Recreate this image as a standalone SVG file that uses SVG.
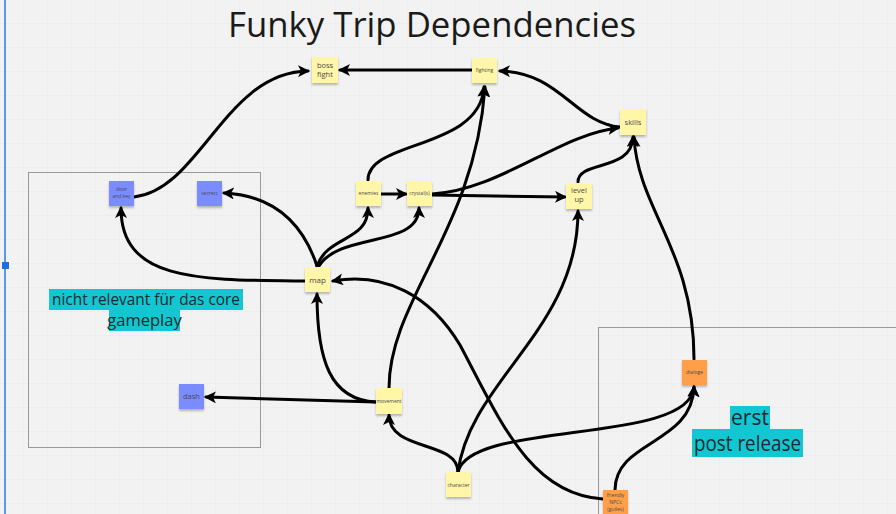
<svg xmlns="http://www.w3.org/2000/svg" width="896" height="514" viewBox="0 0 896 514">
<defs>
<pattern id="grid" width="24" height="24" patternUnits="userSpaceOnUse">
<path d="M24 0V24M0 24H24" fill="none" stroke="#e8e8e8" stroke-width="1"/>
</pattern>
<marker id="ah" viewBox="0 0 12 12" refX="10" refY="6" markerWidth="12" markerHeight="12" markerUnits="userSpaceOnUse" orient="auto">
<path d="M0,0 L12,6 L0,12 L3,6 Z" fill="#000"/>
</marker>
<filter id="sh" x="-20%" y="-20%" width="140%" height="160%">
<feDropShadow dx="0" dy="2" stdDeviation="1.2" flood-color="#000" flood-opacity="0.25"/>
</filter>
</defs>
<style>
.y{fill:#fff6a8;filter:url(#sh)}
.b{fill:#7a8cff;filter:url(#sh)}
.o{fill:#ff9f4a;filter:url(#sh)}
.t{font-family:"Open Sans","Liberation Sans",sans-serif;fill:#4a4a4a;text-anchor:middle}
.s{font-size:5px}
.m{font-size:7.5px}
.c{fill:none;stroke:#000;stroke-width:3;stroke-linecap:round;marker-end:url(#ah)}
.lab{font-family:"Open Sans","Liberation Sans",sans-serif;fill:#1a2a2e;text-anchor:middle}
</style>
<rect width="896" height="514" fill="#f2f2f2"/>
<rect width="896" height="514" fill="url(#grid)"/>
<line x1="5" y1="0" x2="5" y2="514" stroke="#2a79e4" stroke-width="1.5"/>
<rect x="2" y="262" width="7" height="7" fill="#1f6fe0"/>
<text x="228" y="37" font-family="Open Sans, Liberation Sans, sans-serif" font-size="34" fill="#1a1a1a" textLength="408" lengthAdjust="spacingAndGlyphs">Funky Trip Dependencies</text>
<g id="frames" fill="none" stroke="#999" stroke-width="1">
<rect x="28.5" y="172.5" width="232" height="275"/>
<rect x="598.5" y="327.5" width="300" height="200"/>
</g>
<g id="labels">
<rect x="49" y="289" width="194" height="21" fill="#12c7d2"/>
<rect x="109" y="310" width="71" height="21" fill="#12c7d2"/>
<text class="lab" x="146" y="305" font-size="16.5" textLength="188" lengthAdjust="spacingAndGlyphs">nicht relevant für das core</text>
<text class="lab" x="144.5" y="326" font-size="16.5">gameplay</text>
<rect x="730" y="406" width="40" height="23" fill="#12c7d2"/>
<rect x="692" y="429" width="111" height="28" fill="#12c7d2"/>
<text class="lab" x="750" y="425" font-size="21">erst</text>
<text class="lab" x="747.5" y="451" font-size="21" textLength="107" lengthAdjust="spacingAndGlyphs">post release</text>
</g>
<g id="connectors">
<path class="c" d="M134,197 C200,190 225,72 308,71"/>
<path class="c" d="M472,70 L340,70"/>
<path class="c" d="M620,127 C575,123 560,72 500,71"/>
<path class="c" d="M368,180 C368,140 480,150 484,87"/>
<path class="c" d="M389,388 C389,300 475,230 485,87"/>
<path class="c" d="M381,194 L406,194"/>
<path class="c" d="M432,195 L565,197"/>
<path class="c" d="M432,194 C500,190 560,134 618,128"/>
<path class="c" d="M578,182 C578,160 632,172 633,137"/>
<path class="c" d="M694,359 C694,250 638,210 634,137"/>
<path class="c" d="M305,281 C200,280 121,282 121,208"/>
<path class="c" d="M317,266 C300,215 265,195 224,193"/>
<path class="c" d="M317,266 C328,235 368,242 368,208"/>
<path class="c" d="M319,266 C340,232 419,248 419,208"/>
<path class="c" d="M376,402 C330,400 317,360 317,294"/>
<path class="c" d="M376,402 L206,397"/>
<path class="c" d="M458,472 C458,440 389,452 389,415"/>
<path class="c" d="M458,472 C470,380 578,330 578,211"/>
<path class="c" d="M458,472 C470,420 690,445 694,387"/>
<path class="c" d="M603,499 C530,495 500,420 460,345 C430,295 385,272 333,281"/>
<path class="c" d="M615,490 C615,440 692,445 694,387"/>
</g>
<g id="boss-fight"><rect class="y" x="312" y="57" width="26" height="26"/><text class="t m" x="325" y="68">boss</text><text class="t m" x="325" y="77">fight</text></g>
<g id="fighting"><rect class="y" x="472" y="58" width="25" height="25"/><text class="t s" x="484.5" y="72">fighting</text></g>
<g id="skills"><rect class="y" x="620" y="109" width="26" height="26"/><text class="t m" x="633" y="124.5">skills</text></g>
<g id="enemies"><rect class="y" x="356" y="181" width="25" height="25"/><text class="t s" x="368.5" y="195">enemies</text></g>
<g id="crystals"><rect class="y" x="407" y="181" width="25" height="25"/><text class="t s" x="419.5" y="195" font-size="4">crystal(s)</text></g>
<g id="level-up"><rect class="y" x="566" y="183" width="26" height="26"/><text class="t m" x="579" y="193">level</text><text class="t m" x="579" y="202">up</text></g>
<g id="door-and-key"><rect class="b" x="109" y="181" width="25" height="25"/><text class="t s" x="121.5" y="191">door</text><text class="t s" x="121.5" y="198">and key</text></g>
<g id="secrets"><rect class="b" x="197" y="181" width="25" height="25"/><text class="t s" x="209.5" y="195" font-size="5.5">secrets</text></g>
<g id="map"><rect class="y" x="305" y="267" width="25" height="25"/><text class="t" x="317.5" y="283" font-size="8">map</text></g>
<g id="dash"><rect class="b" x="179" y="384" width="25" height="25"/><text class="t" x="191.5" y="399" font-size="7.5">dash</text></g>
<g id="movement"><rect class="y" x="376" y="388" width="26" height="26"/><text class="t s" x="389" y="403" font-size="4.2">movement</text></g>
<g id="character"><rect class="y" x="446" y="472" width="25" height="25"/><text class="t s" x="458.5" y="487" font-size="4.5">character</text></g>
<g id="friendly-npcs"><rect class="o" x="603" y="490" width="25" height="26"/><text class="t s" x="615.5" y="497">friendly</text><text class="t s" x="615.5" y="504">NPCs</text><text class="t s" x="615.5" y="511">(guiles)</text></g>
<g id="dialoge"><rect class="o" x="682" y="360" width="25" height="25"/><text class="t s" x="694.5" y="374">dialoge</text></g>
</svg>
